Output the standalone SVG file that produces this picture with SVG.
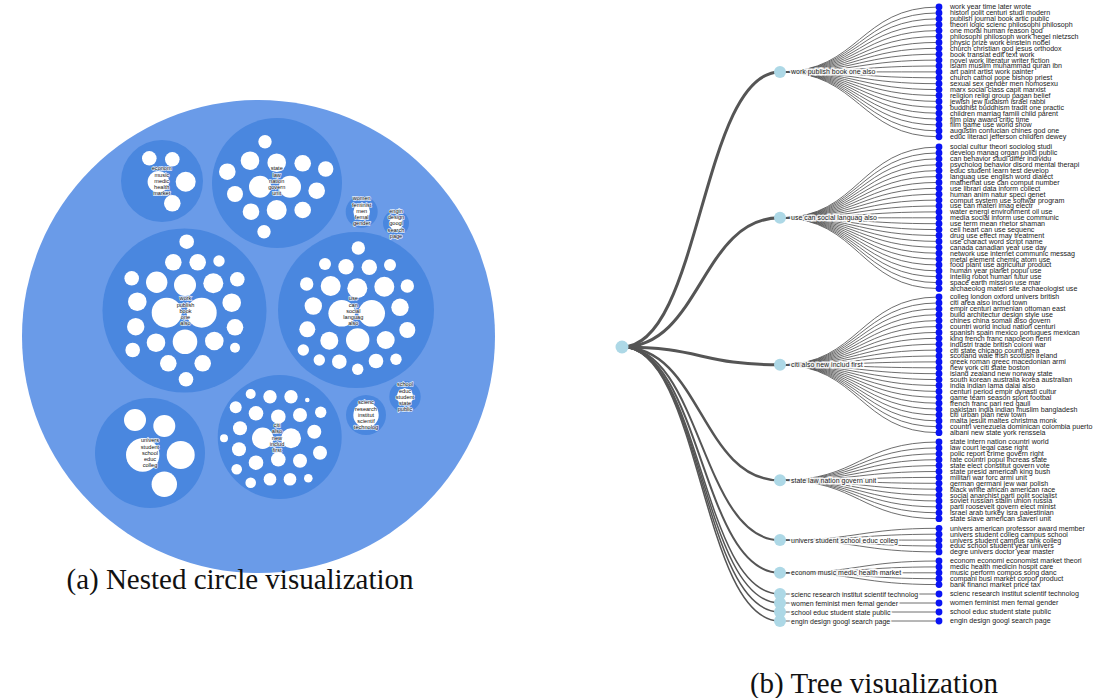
<svg xmlns="http://www.w3.org/2000/svg" width="1094" height="698" viewBox="0 0 1094 698">
<style>
.ll{fill:none;stroke:#555;stroke-width:1;stroke-opacity:.85}
.rl{fill:none;stroke:#555}
.lv{fill:#0a14f5}
.md{fill:#add8e6}
.tl{font-family:"Liberation Sans",Arial,sans-serif;font-size:7.1px;fill:#1a1a1a}
.ml{font-family:"Liberation Sans",Arial,sans-serif;font-size:7px;fill:#1a1a1a;stroke:#fff;stroke-width:3;stroke-opacity:.9;paint-order:stroke}
.outer{fill:#6a9be8}
.grp{fill:#4a87df}
.w{fill:#fff}
.cl{font-family:"Liberation Sans",Arial,sans-serif;font-size:5.6px;fill:#111;text-anchor:middle;stroke:#fff;stroke-width:1.3;stroke-opacity:.85;paint-order:stroke}
.cap{font-family:"Liberation Serif","Times New Roman",serif;font-size:29px;fill:#111;text-anchor:middle}
</style>

<!-- ========== (a) nested circles ========== -->
<g id="pack">
<circle id="pack-root" class="outer" cx="258.5" cy="336.5" r="236.5"/>

<g id="c-econom">
<circle class="grp" cx="162" cy="181" r="41"/>
<circle class="w" cx="149.3" cy="158.3" r="7.3"/><circle class="w" cx="172.3" cy="159.3" r="7.3"/><circle class="w" cx="185.7" cy="181.7" r="10"/><circle class="w" cx="172.3" cy="203.3" r="8.3"/><circle class="w" cx="158.3" cy="181.7" r="10.7"/>
<text class="cl"><tspan x="161.7" y="170.3">econom</tspan><tspan x="161.7" y="176.6">music</tspan><tspan x="161.7" y="182.8">medic</tspan><tspan x="161.7" y="189.1">health</tspan><tspan x="161.7" y="195.3">market</tspan></text>
</g>

<g id="c-state">
<circle class="grp" cx="277" cy="183" r="65"/>
<circle class="w" cx="265" cy="141.7" r="6.7"/><circle class="w" cx="250" cy="160.7" r="9.3"/><circle class="w" cx="276.7" cy="162.7" r="9.3"/><circle class="w" cx="302.7" cy="163.3" r="8.3"/><circle class="w" cx="325.7" cy="169" r="7.7"/><circle class="w" cx="227.3" cy="171.7" r="8.3"/><circle class="w" cx="260" cy="186.7" r="11"/><circle class="w" cx="290" cy="186.7" r="11"/><circle class="w" cx="316.7" cy="190.7" r="8.3"/><circle class="w" cx="235" cy="194" r="8"/><circle class="w" cx="251" cy="211.7" r="8.3"/><circle class="w" cx="276.7" cy="210" r="10"/><circle class="w" cx="302.7" cy="210" r="8.3"/><circle class="w" cx="264" cy="231.7" r="6.7"/>
<text class="cl"><tspan x="276.7" y="170.3">state</tspan><tspan x="276.7" y="176.6">law</tspan><tspan x="276.7" y="182.8">nation</tspan><tspan x="276.7" y="189.1">govern</tspan><tspan x="276.7" y="195.3">unit</tspan></text>
</g>

<g id="c-women">
<circle class="grp" cx="361.7" cy="211.7" r="16"/>
<circle class="w" cx="361.7" cy="211.7" r="8.3"/>
<text class="cl"><tspan x="361.7" y="200.3">women</tspan><tspan x="361.7" y="206.6">feminist</tspan><tspan x="361.7" y="212.8">men</tspan><tspan x="361.7" y="219.1">femal</tspan><tspan x="361.7" y="225.3">gender</tspan></text>
</g>

<g id="c-engin">
<circle class="grp" cx="396" cy="223.3" r="13"/>
<circle class="w" cx="396" cy="223.3" r="6.7"/>
<text class="cl"><tspan x="396" y="212.8">engin</tspan><tspan x="396" y="219.1">design</tspan><tspan x="396" y="225.3">googl</tspan><tspan x="396" y="231.6">search</tspan><tspan x="396" y="237.8">page</tspan></text>
</g>

<g id="c-work">
<circle class="grp" cx="184.5" cy="310.5" r="82"/>
<circle class="w" cx="186.7" cy="241.7" r="7.3"/><circle class="w" cx="173.3" cy="262.3" r="8.3"/><circle class="w" cx="197.7" cy="262.3" r="8.3"/><circle class="w" cx="219" cy="261" r="5.7"/><circle class="w" cx="131.7" cy="278.3" r="7.3"/><circle class="w" cx="156.7" cy="282.3" r="10.7"/><circle class="w" cx="185" cy="285" r="11"/><circle class="w" cx="213.3" cy="283.3" r="10"/><circle class="w" cx="237.3" cy="279.3" r="7.3"/><circle class="w" cx="137.3" cy="301.7" r="9.3"/><circle class="w" cx="231.7" cy="302.7" r="9.3"/><circle class="w" cx="166.7" cy="312.7" r="15"/><circle class="w" cx="201.7" cy="312.7" r="15"/><circle class="w" cx="135.7" cy="326.7" r="8.7"/><circle class="w" cx="235" cy="327.3" r="8.3"/><circle class="w" cx="156" cy="342.7" r="9.3"/><circle class="w" cx="185" cy="341.7" r="12.3"/><circle class="w" cx="214.3" cy="341" r="9.3"/><circle class="w" cx="132.7" cy="350" r="7.3"/><circle class="w" cx="235" cy="347.7" r="5"/><circle class="w" cx="168.3" cy="363.3" r="8.3"/><circle class="w" cx="202.7" cy="363.3" r="8.3"/><circle class="w" cx="186" cy="379.3" r="7.3"/>
<text class="cl"><tspan x="185.5" y="300.3">work</tspan><tspan x="185.5" y="306.6">publish</tspan><tspan x="185.5" y="312.8">book</tspan><tspan x="185.5" y="319.1">one</tspan><tspan x="185.5" y="325.3">also</tspan></text>
</g>

<g id="c-use">
<circle class="grp" cx="356" cy="310" r="78"/>
<circle class="w" cx="358.3" cy="248" r="6.7"/><circle class="w" cx="325" cy="264" r="6"/><circle class="w" cx="346" cy="266.7" r="7.7"/><circle class="w" cx="369.3" cy="267.3" r="7.7"/><circle class="w" cx="390" cy="265" r="6"/><circle class="w" cx="306.7" cy="284" r="6.7"/><circle class="w" cx="330.7" cy="286" r="10"/><circle class="w" cx="357.3" cy="288.3" r="10"/><circle class="w" cx="384.3" cy="286.7" r="10"/><circle class="w" cx="407.3" cy="286" r="6.7"/><circle class="w" cx="313.3" cy="306" r="8.7"/><circle class="w" cx="341.7" cy="313.3" r="13.3"/><circle class="w" cx="371.7" cy="313.3" r="13.3"/><circle class="w" cx="400" cy="307.3" r="8.7"/><circle class="w" cx="307.3" cy="329.3" r="8"/><circle class="w" cx="407.3" cy="330" r="8"/><circle class="w" cx="329.3" cy="340.7" r="9"/><circle class="w" cx="357.7" cy="340" r="11.7"/><circle class="w" cx="385.7" cy="340" r="9"/><circle class="w" cx="303.3" cy="350" r="5.7"/><circle class="w" cx="319.3" cy="360" r="5.7"/><circle class="w" cx="339.3" cy="361.7" r="7.3"/><circle class="w" cx="376" cy="361" r="7.3"/><circle class="w" cx="396" cy="359.3" r="5.7"/><circle class="w" cx="357.7" cy="369.3" r="5.7"/>
<text class="cl"><tspan x="353.3" y="300.3">use</tspan><tspan x="353.3" y="306.6">can</tspan><tspan x="353.3" y="312.8">social</tspan><tspan x="353.3" y="319.1">languag</tspan><tspan x="353.3" y="325.3">also</tspan></text>
</g>

<g id="c-univers">
<circle class="grp" cx="150" cy="453" r="55"/>
<circle class="w" cx="135" cy="420" r="11"/><circle class="w" cx="164.3" cy="426" r="11"/><circle class="w" cx="142.7" cy="455" r="16.7"/><circle class="w" cx="180.7" cy="455" r="14"/><circle class="w" cx="164.3" cy="484.3" r="12.7"/>
<text class="cl"><tspan x="150" y="442.3">univers</tspan><tspan x="150" y="448.5">student</tspan><tspan x="150" y="454.8">school</tspan><tspan x="150" y="461">educ</tspan><tspan x="150" y="467.3">colleg</tspan></text>
</g>

<g id="c-citi">
<circle class="grp" cx="279.7" cy="437" r="62"/>
<circle class="w" cx="250.7" cy="394" r="5"/><circle class="w" cx="270" cy="396.7" r="6.7"/><circle class="w" cx="291" cy="396.7" r="6.7"/><circle class="w" cx="307.3" cy="400" r="2.3"/><circle class="w" cx="235.7" cy="407.3" r="6"/><circle class="w" cx="256" cy="413.3" r="7.3"/><circle class="w" cx="278.3" cy="416.7" r="7.3"/><circle class="w" cx="300" cy="415" r="7"/><circle class="w" cx="320.7" cy="412.3" r="5.7"/><circle class="w" cx="240" cy="428.3" r="7"/><circle class="w" cx="314.3" cy="431.7" r="7"/><circle class="w" cx="224" cy="438.3" r="4"/><circle class="w" cx="262.7" cy="438.3" r="10.7"/><circle class="w" cx="291" cy="438.3" r="10"/><circle class="w" cx="239" cy="449.3" r="7"/><circle class="w" cx="320" cy="452.7" r="7"/><circle class="w" cx="278.3" cy="459.3" r="7.3"/><circle class="w" cx="256" cy="462.7" r="7.3"/><circle class="w" cx="300" cy="460.7" r="7"/><circle class="w" cx="236.7" cy="469.3" r="5.3"/><circle class="w" cx="250.7" cy="482.7" r="5.3"/><circle class="w" cx="270" cy="479.3" r="6.3"/><circle class="w" cx="290" cy="479.3" r="6.3"/><circle class="w" cx="308.3" cy="478.3" r="4.3"/>
<text class="cl"><tspan x="277" y="427">citi</tspan><tspan x="277" y="433.3">also</tspan><tspan x="277" y="439.5">new</tspan><tspan x="277" y="445.8">includ</tspan><tspan x="277" y="452">first</tspan></text>
</g>

<g id="c-scienc">
<circle class="grp" cx="366" cy="415" r="20"/>
<circle class="w" cx="366" cy="415" r="12.7"/>
<text class="cl"><tspan x="366" y="404.3">scienc</tspan><tspan x="366" y="410.6">research</tspan><tspan x="366" y="416.8">institut</tspan><tspan x="366" y="423.1">scientif</tspan><tspan x="366" y="429.3">technolog</tspan></text>
</g>

<g id="c-school">
<circle class="grp" cx="405" cy="396.7" r="15.7"/>
<circle class="w" cx="405" cy="396.7" r="8.3"/>
<text class="cl"><tspan x="405" y="386.3">school</tspan><tspan x="405" y="392.6">educ</tspan><tspan x="405" y="398.8">student</tspan><tspan x="405" y="405.1">state</tspan><tspan x="405" y="411.3">public</tspan></text>
</g>
</g>

<text id="cap-a" class="cap" x="240" y="589">(a) Nested circle visualization</text>

<!-- ========== (b) tree ========== -->
<g id="connectors">
<path class="rl" stroke-width="3" d="M622,347C701,347 701,71.9 780,71.9"/>
<path class="rl" stroke-width="3" d="M622,347C701,347 701,217.8 780,217.8"/>
<path class="rl" stroke-width="3" d="M622,347C701,347 701,364.85 780,364.85"/>
<path class="rl" stroke-width="2.5" d="M622,347C701,347 701,480.35 780,480.35"/>
<path class="rl" stroke-width="2" d="M622,347C701,347 701,540.1 780,540.1"/>
<path class="rl" stroke-width="2" d="M622,347C701,347 701,572.8 780,572.8"/>
<path class="rl" stroke-width="1.5" d="M622,347C701,347 701,594 780,594"/>
<path class="rl" stroke-width="1.5" d="M622,347C701,347 701,603 780,603"/>
<path class="rl" stroke-width="1.5" d="M622,347C701,347 701,612 780,612"/>
<path class="rl" stroke-width="1.5" d="M622,347C701,347 701,621 780,621"/>

<path class="ll" d="M780,71.9C859.5,71.9 859.5,7 939,7"/>
<path class="ll" d="M780,71.9C859.5,71.9 859.5,12.9 939,12.9"/>
<path class="ll" d="M780,71.9C859.5,71.9 859.5,18.8 939,18.8"/>
<path class="ll" d="M780,71.9C859.5,71.9 859.5,24.7 939,24.7"/>
<path class="ll" d="M780,71.9C859.5,71.9 859.5,30.6 939,30.6"/>
<path class="ll" d="M780,71.9C859.5,71.9 859.5,36.5 939,36.5"/>
<path class="ll" d="M780,71.9C859.5,71.9 859.5,42.4 939,42.4"/>
<path class="ll" d="M780,71.9C859.5,71.9 859.5,48.3 939,48.3"/>
<path class="ll" d="M780,71.9C859.5,71.9 859.5,54.2 939,54.2"/>
<path class="ll" d="M780,71.9C859.5,71.9 859.5,60.1 939,60.1"/>
<path class="ll" d="M780,71.9C859.5,71.9 859.5,66 939,66"/>
<path class="ll" d="M780,71.9C859.5,71.9 859.5,71.9 939,71.9"/>
<path class="ll" d="M780,71.9C859.5,71.9 859.5,77.8 939,77.8"/>
<path class="ll" d="M780,71.9C859.5,71.9 859.5,83.7 939,83.7"/>
<path class="ll" d="M780,71.9C859.5,71.9 859.5,89.6 939,89.6"/>
<path class="ll" d="M780,71.9C859.5,71.9 859.5,95.5 939,95.5"/>
<path class="ll" d="M780,71.9C859.5,71.9 859.5,101.4 939,101.4"/>
<path class="ll" d="M780,71.9C859.5,71.9 859.5,107.3 939,107.3"/>
<path class="ll" d="M780,71.9C859.5,71.9 859.5,113.2 939,113.2"/>
<path class="ll" d="M780,71.9C859.5,71.9 859.5,119.1 939,119.1"/>
<path class="ll" d="M780,71.9C859.5,71.9 859.5,125 939,125"/>
<path class="ll" d="M780,71.9C859.5,71.9 859.5,130.9 939,130.9"/>
<path class="ll" d="M780,71.9C859.5,71.9 859.5,136.8 939,136.8"/>

<path class="ll" d="M780,217.8C859.5,217.8 859.5,147 939,147"/>
<path class="ll" d="M780,217.8C859.5,217.8 859.5,152.9 939,152.9"/>
<path class="ll" d="M780,217.8C859.5,217.8 859.5,158.8 939,158.8"/>
<path class="ll" d="M780,217.8C859.5,217.8 859.5,164.7 939,164.7"/>
<path class="ll" d="M780,217.8C859.5,217.8 859.5,170.6 939,170.6"/>
<path class="ll" d="M780,217.8C859.5,217.8 859.5,176.5 939,176.5"/>
<path class="ll" d="M780,217.8C859.5,217.8 859.5,182.4 939,182.4"/>
<path class="ll" d="M780,217.8C859.5,217.8 859.5,188.3 939,188.3"/>
<path class="ll" d="M780,217.8C859.5,217.8 859.5,194.2 939,194.2"/>
<path class="ll" d="M780,217.8C859.5,217.8 859.5,200.1 939,200.1"/>
<path class="ll" d="M780,217.8C859.5,217.8 859.5,206 939,206"/>
<path class="ll" d="M780,217.8C859.5,217.8 859.5,211.9 939,211.9"/>
<path class="ll" d="M780,217.8C859.5,217.8 859.5,217.8 939,217.8"/>
<path class="ll" d="M780,217.8C859.5,217.8 859.5,223.7 939,223.7"/>
<path class="ll" d="M780,217.8C859.5,217.8 859.5,229.6 939,229.6"/>
<path class="ll" d="M780,217.8C859.5,217.8 859.5,235.5 939,235.5"/>
<path class="ll" d="M780,217.8C859.5,217.8 859.5,241.4 939,241.4"/>
<path class="ll" d="M780,217.8C859.5,217.8 859.5,247.3 939,247.3"/>
<path class="ll" d="M780,217.8C859.5,217.8 859.5,253.2 939,253.2"/>
<path class="ll" d="M780,217.8C859.5,217.8 859.5,259.1 939,259.1"/>
<path class="ll" d="M780,217.8C859.5,217.8 859.5,265 939,265"/>
<path class="ll" d="M780,217.8C859.5,217.8 859.5,270.9 939,270.9"/>
<path class="ll" d="M780,217.8C859.5,217.8 859.5,276.8 939,276.8"/>
<path class="ll" d="M780,217.8C859.5,217.8 859.5,282.7 939,282.7"/>
<path class="ll" d="M780,217.8C859.5,217.8 859.5,288.6 939,288.6"/>

<path class="ll" d="M780,364.85C859.5,364.85 859.5,297 939,297"/>
<path class="ll" d="M780,364.85C859.5,364.85 859.5,302.9 939,302.9"/>
<path class="ll" d="M780,364.85C859.5,364.85 859.5,308.8 939,308.8"/>
<path class="ll" d="M780,364.85C859.5,364.85 859.5,314.7 939,314.7"/>
<path class="ll" d="M780,364.85C859.5,364.85 859.5,320.6 939,320.6"/>
<path class="ll" d="M780,364.85C859.5,364.85 859.5,326.5 939,326.5"/>
<path class="ll" d="M780,364.85C859.5,364.85 859.5,332.4 939,332.4"/>
<path class="ll" d="M780,364.85C859.5,364.85 859.5,338.3 939,338.3"/>
<path class="ll" d="M780,364.85C859.5,364.85 859.5,344.2 939,344.2"/>
<path class="ll" d="M780,364.85C859.5,364.85 859.5,350.1 939,350.1"/>
<path class="ll" d="M780,364.85C859.5,364.85 859.5,356 939,356"/>
<path class="ll" d="M780,364.85C859.5,364.85 859.5,361.9 939,361.9"/>
<path class="ll" d="M780,364.85C859.5,364.85 859.5,367.8 939,367.8"/>
<path class="ll" d="M780,364.85C859.5,364.85 859.5,373.7 939,373.7"/>
<path class="ll" d="M780,364.85C859.5,364.85 859.5,379.6 939,379.6"/>
<path class="ll" d="M780,364.85C859.5,364.85 859.5,385.5 939,385.5"/>
<path class="ll" d="M780,364.85C859.5,364.85 859.5,391.4 939,391.4"/>
<path class="ll" d="M780,364.85C859.5,364.85 859.5,397.3 939,397.3"/>
<path class="ll" d="M780,364.85C859.5,364.85 859.5,403.2 939,403.2"/>
<path class="ll" d="M780,364.85C859.5,364.85 859.5,409.1 939,409.1"/>
<path class="ll" d="M780,364.85C859.5,364.85 859.5,415 939,415"/>
<path class="ll" d="M780,364.85C859.5,364.85 859.5,420.9 939,420.9"/>
<path class="ll" d="M780,364.85C859.5,364.85 859.5,426.8 939,426.8"/>
<path class="ll" d="M780,364.85C859.5,364.85 859.5,432.7 939,432.7"/>

<path class="ll" d="M780,480.35C859.5,480.35 859.5,442 939,442"/>
<path class="ll" d="M780,480.35C859.5,480.35 859.5,447.9 939,447.9"/>
<path class="ll" d="M780,480.35C859.5,480.35 859.5,453.8 939,453.8"/>
<path class="ll" d="M780,480.35C859.5,480.35 859.5,459.7 939,459.7"/>
<path class="ll" d="M780,480.35C859.5,480.35 859.5,465.6 939,465.6"/>
<path class="ll" d="M780,480.35C859.5,480.35 859.5,471.5 939,471.5"/>
<path class="ll" d="M780,480.35C859.5,480.35 859.5,477.4 939,477.4"/>
<path class="ll" d="M780,480.35C859.5,480.35 859.5,483.3 939,483.3"/>
<path class="ll" d="M780,480.35C859.5,480.35 859.5,489.2 939,489.2"/>
<path class="ll" d="M780,480.35C859.5,480.35 859.5,495.1 939,495.1"/>
<path class="ll" d="M780,480.35C859.5,480.35 859.5,501 939,501"/>
<path class="ll" d="M780,480.35C859.5,480.35 859.5,506.9 939,506.9"/>
<path class="ll" d="M780,480.35C859.5,480.35 859.5,512.8 939,512.8"/>
<path class="ll" d="M780,480.35C859.5,480.35 859.5,518.7 939,518.7"/>

<path class="ll" d="M780,540.1C859.5,540.1 859.5,528.3 939,528.3"/>
<path class="ll" d="M780,540.1C859.5,540.1 859.5,534.2 939,534.2"/>
<path class="ll" d="M780,540.1C859.5,540.1 859.5,540.1 939,540.1"/>
<path class="ll" d="M780,540.1C859.5,540.1 859.5,546 939,546"/>
<path class="ll" d="M780,540.1C859.5,540.1 859.5,551.9 939,551.9"/>

<path class="ll" d="M780,572.8C859.5,572.8 859.5,561 939,561"/>
<path class="ll" d="M780,572.8C859.5,572.8 859.5,566.9 939,566.9"/>
<path class="ll" d="M780,572.8C859.5,572.8 859.5,572.8 939,572.8"/>
<path class="ll" d="M780,572.8C859.5,572.8 859.5,578.7 939,578.7"/>
<path class="ll" d="M780,572.8C859.5,572.8 859.5,584.6 939,584.6"/>

<path class="ll" d="M780,594H939"/>
<path class="ll" d="M780,603H939"/>
<path class="ll" d="M780,612H939"/>
<path class="ll" d="M780,621H939"/>
</g>

<g id="root"><circle class="md" cx="622" cy="347" r="6.5"/></g>

<g id="m1"><circle class="md" cx="780" cy="71.9" r="6"/><text class="ml" x="791" y="74.4">work publish book one also</text></g>
<g id="m2"><circle class="md" cx="780" cy="217.8" r="6"/><text class="ml" x="791" y="220.3">use can social languag also</text></g>
<g id="m3"><circle class="md" cx="780" cy="364.85" r="6"/><text class="ml" x="791" y="367.3">citi also new includ first</text></g>
<g id="m4"><circle class="md" cx="780" cy="480.35" r="6"/><text class="ml" x="791" y="482.8">state law nation govern unit</text></g>
<g id="m5"><circle class="md" cx="780" cy="540.1" r="6"/><text class="ml" x="791" y="542.6">univers student school educ colleg</text></g>
<g id="m6"><circle class="md" cx="780" cy="572.8" r="6"/><text class="ml" x="791" y="575.3">econom music medic health market</text></g>
<g id="m7"><circle class="md" cx="780" cy="594" r="6"/><text class="ml" x="791" y="596.5">scienc research institut scientif technolog</text></g>
<g id="m8"><circle class="md" cx="780" cy="603" r="6"/><text class="ml" x="791" y="605.5">women feminist men femal gender</text></g>
<g id="m9"><circle class="md" cx="780" cy="612" r="6"/><text class="ml" x="791" y="614.5">school educ student state public</text></g>
<g id="m10"><circle class="md" cx="780" cy="621" r="6"/><text class="ml" x="791" y="623.5">engin design googl search page</text></g>

<g id="leaves">
<g id="l1-1"><circle class="lv" cx="939" cy="7" r="3.4"/><text class="tl" x="950" y="9.4">work year time later wrote</text></g>
<g id="l1-2"><circle class="lv" cx="939" cy="12.9" r="3.4"/><text class="tl" x="950" y="15.3">histori polit centuri studi modern</text></g>
<g id="l1-3"><circle class="lv" cx="939" cy="18.8" r="3.4"/><text class="tl" x="950" y="21.2">publish journal book artic public</text></g>
<g id="l1-4"><circle class="lv" cx="939" cy="24.7" r="3.4"/><text class="tl" x="950" y="27.1">theori logic scienc philosophi philosoph</text></g>
<g id="l1-5"><circle class="lv" cx="939" cy="30.6" r="3.4"/><text class="tl" x="950" y="33">one moral human reason god</text></g>
<g id="l1-6"><circle class="lv" cx="939" cy="36.5" r="3.4"/><text class="tl" x="950" y="38.9">philosophi philosoph work hegel nietzsch</text></g>
<g id="l1-7"><circle class="lv" cx="939" cy="42.4" r="3.4"/><text class="tl" x="950" y="44.8">physic prize work einstein nobel</text></g>
<g id="l1-8"><circle class="lv" cx="939" cy="48.3" r="3.4"/><text class="tl" x="950" y="50.7">church christian god jesus orthodox</text></g>
<g id="l1-9"><circle class="lv" cx="939" cy="54.2" r="3.4"/><text class="tl" x="950" y="56.6">book translat edit text work</text></g>
<g id="l1-10"><circle class="lv" cx="939" cy="60.1" r="3.4"/><text class="tl" x="950" y="62.5">novel work literatur writer fiction</text></g>
<g id="l1-11"><circle class="lv" cx="939" cy="66" r="3.4"/><text class="tl" x="950" y="68.4">islam muslim muhammad quran ibn</text></g>
<g id="l1-12"><circle class="lv" cx="939" cy="71.9" r="3.4"/><text class="tl" x="950" y="74.3">art paint artist work painter</text></g>
<g id="l1-13"><circle class="lv" cx="939" cy="77.8" r="3.4"/><text class="tl" x="950" y="80.2">church cathol pope bishop priest</text></g>
<g id="l1-14"><circle class="lv" cx="939" cy="83.7" r="3.4"/><text class="tl" x="950" y="86.1">sexual sex gender men homosexu</text></g>
<g id="l1-15"><circle class="lv" cx="939" cy="89.6" r="3.4"/><text class="tl" x="950" y="92">marx social class capit marxist</text></g>
<g id="l1-16"><circle class="lv" cx="939" cy="95.5" r="3.4"/><text class="tl" x="950" y="97.9">religion religi group pagan belief</text></g>
<g id="l1-17"><circle class="lv" cx="939" cy="101.4" r="3.4"/><text class="tl" x="950" y="103.8">jewish jew judaism israel rabbi</text></g>
<g id="l1-18"><circle class="lv" cx="939" cy="107.3" r="3.4"/><text class="tl" x="950" y="109.7">buddhist buddhism tradit one practic</text></g>
<g id="l1-19"><circle class="lv" cx="939" cy="113.2" r="3.4"/><text class="tl" x="950" y="115.6">children marriag famili child parent</text></g>
<g id="l1-20"><circle class="lv" cx="939" cy="119.1" r="3.4"/><text class="tl" x="950" y="121.5">film play award critic time</text></g>
<g id="l1-21"><circle class="lv" cx="939" cy="125" r="3.4"/><text class="tl" x="950" y="127.4">film game use world show</text></g>
<g id="l1-22"><circle class="lv" cx="939" cy="130.9" r="3.4"/><text class="tl" x="950" y="133.3">augustin confucian chines god one</text></g>
<g id="l1-23"><circle class="lv" cx="939" cy="136.8" r="3.4"/><text class="tl" x="950" y="139.2">educ literaci jefferson children dewey</text></g>

<g id="l2-1"><circle class="lv" cx="939" cy="147" r="3.4"/><text class="tl" x="950" y="149.4">social cultur theori sociolog studi</text></g>
<g id="l2-2"><circle class="lv" cx="939" cy="152.9" r="3.4"/><text class="tl" x="950" y="155.3">develop manag organ polici public</text></g>
<g id="l2-3"><circle class="lv" cx="939" cy="158.8" r="3.4"/><text class="tl" x="950" y="161.2">can behavior studi differ individu</text></g>
<g id="l2-4"><circle class="lv" cx="939" cy="164.7" r="3.4"/><text class="tl" x="950" y="167.1">psycholog behavior disord mental therapi</text></g>
<g id="l2-5"><circle class="lv" cx="939" cy="170.6" r="3.4"/><text class="tl" x="950" y="173">educ student learn test develop</text></g>
<g id="l2-6"><circle class="lv" cx="939" cy="176.5" r="3.4"/><text class="tl" x="950" y="178.9">languag use english word dialect</text></g>
<g id="l2-7"><circle class="lv" cx="939" cy="182.4" r="3.4"/><text class="tl" x="950" y="184.8">mathemat use can comput number</text></g>
<g id="l2-8"><circle class="lv" cx="939" cy="188.3" r="3.4"/><text class="tl" x="950" y="190.7">use librari data inform collect</text></g>
<g id="l2-9"><circle class="lv" cx="939" cy="194.2" r="3.4"/><text class="tl" x="950" y="196.6">human anim natur speci genet</text></g>
<g id="l2-10"><circle class="lv" cx="939" cy="200.1" r="3.4"/><text class="tl" x="950" y="202.5">comput system use softwar program</text></g>
<g id="l2-11"><circle class="lv" cx="939" cy="206" r="3.4"/><text class="tl" x="950" y="208.4">use can materi imag electr</text></g>
<g id="l2-12"><circle class="lv" cx="939" cy="211.9" r="3.4"/><text class="tl" x="950" y="214.3">water energi environment oil use</text></g>
<g id="l2-13"><circle class="lv" cx="939" cy="217.8" r="3.4"/><text class="tl" x="950" y="220.2">media social inform use communic</text></g>
<g id="l2-14"><circle class="lv" cx="939" cy="223.7" r="3.4"/><text class="tl" x="950" y="226.1">use term mean rhetor shaman</text></g>
<g id="l2-15"><circle class="lv" cx="939" cy="229.6" r="3.4"/><text class="tl" x="950" y="232">cell heart can use sequenc</text></g>
<g id="l2-16"><circle class="lv" cx="939" cy="235.5" r="3.4"/><text class="tl" x="950" y="237.9">drug use effect may treatment</text></g>
<g id="l2-17"><circle class="lv" cx="939" cy="241.4" r="3.4"/><text class="tl" x="950" y="243.8">use charact word script name</text></g>
<g id="l2-18"><circle class="lv" cx="939" cy="247.3" r="3.4"/><text class="tl" x="950" y="249.7">canada canadian year use day</text></g>
<g id="l2-19"><circle class="lv" cx="939" cy="253.2" r="3.4"/><text class="tl" x="950" y="255.6">network use internet communic messag</text></g>
<g id="l2-20"><circle class="lv" cx="939" cy="259.1" r="3.4"/><text class="tl" x="950" y="261.5">metal element chemic atom use</text></g>
<g id="l2-21"><circle class="lv" cx="939" cy="265" r="3.4"/><text class="tl" x="950" y="267.4">food plant use agricultur product</text></g>
<g id="l2-22"><circle class="lv" cx="939" cy="270.9" r="3.4"/><text class="tl" x="950" y="273.3">human year planet popul use</text></g>
<g id="l2-23"><circle class="lv" cx="939" cy="276.8" r="3.4"/><text class="tl" x="950" y="279.2">intellig robot human futur use</text></g>
<g id="l2-24"><circle class="lv" cx="939" cy="282.7" r="3.4"/><text class="tl" x="950" y="285.1">space earth mission use mar</text></g>
<g id="l2-25"><circle class="lv" cx="939" cy="288.6" r="3.4"/><text class="tl" x="950" y="291">archaeolog materi site archaeologist use</text></g>

<g id="l3-1"><circle class="lv" cx="939" cy="297" r="3.4"/><text class="tl" x="950" y="299.4">colleg london oxford univers british</text></g>
<g id="l3-2"><circle class="lv" cx="939" cy="302.9" r="3.4"/><text class="tl" x="950" y="305.3">citi area also includ town</text></g>
<g id="l3-3"><circle class="lv" cx="939" cy="308.8" r="3.4"/><text class="tl" x="950" y="311.2">empir centuri armenian ottoman east</text></g>
<g id="l3-4"><circle class="lv" cx="939" cy="314.7" r="3.4"/><text class="tl" x="950" y="317.1">build architectur design style use</text></g>
<g id="l3-5"><circle class="lv" cx="939" cy="320.6" r="3.4"/><text class="tl" x="950" y="323">chines china somali also govern</text></g>
<g id="l3-6"><circle class="lv" cx="939" cy="326.5" r="3.4"/><text class="tl" x="950" y="328.9">countri world includ nation centuri</text></g>
<g id="l3-7"><circle class="lv" cx="939" cy="332.4" r="3.4"/><text class="tl" x="950" y="334.8">spanish spain mexico portugues mexican</text></g>
<g id="l3-8"><circle class="lv" cx="939" cy="338.3" r="3.4"/><text class="tl" x="950" y="340.7">king french franc napoleon henri</text></g>
<g id="l3-9"><circle class="lv" cx="939" cy="344.2" r="3.4"/><text class="tl" x="950" y="346.6">industri trade british coloni war</text></g>
<g id="l3-10"><circle class="lv" cx="939" cy="350.1" r="3.4"/><text class="tl" x="950" y="352.5">citi state chicago counti area</text></g>
<g id="l3-11"><circle class="lv" cx="939" cy="356" r="3.4"/><text class="tl" x="950" y="358.4">scotland wale irish scottish ireland</text></g>
<g id="l3-12"><circle class="lv" cx="939" cy="361.9" r="3.4"/><text class="tl" x="950" y="364.3">greek roman greec macedonian armi</text></g>
<g id="l3-13"><circle class="lv" cx="939" cy="367.8" r="3.4"/><text class="tl" x="950" y="370.2">new york citi state boston</text></g>
<g id="l3-14"><circle class="lv" cx="939" cy="373.7" r="3.4"/><text class="tl" x="950" y="376.1">island zealand new norway state</text></g>
<g id="l3-15"><circle class="lv" cx="939" cy="379.6" r="3.4"/><text class="tl" x="950" y="382">south korean australia korea australian</text></g>
<g id="l3-16"><circle class="lv" cx="939" cy="385.5" r="3.4"/><text class="tl" x="950" y="387.9">india indian lama dalai also</text></g>
<g id="l3-17"><circle class="lv" cx="939" cy="391.4" r="3.4"/><text class="tl" x="950" y="393.8">centuri period empir dynasti cultur</text></g>
<g id="l3-18"><circle class="lv" cx="939" cy="397.3" r="3.4"/><text class="tl" x="950" y="399.7">game team season sport footbal</text></g>
<g id="l3-19"><circle class="lv" cx="939" cy="403.2" r="3.4"/><text class="tl" x="950" y="405.6">french franc pari red gaull</text></g>
<g id="l3-20"><circle class="lv" cx="939" cy="409.1" r="3.4"/><text class="tl" x="950" y="411.5">pakistan india indian muslim bangladesh</text></g>
<g id="l3-21"><circle class="lv" cx="939" cy="415" r="3.4"/><text class="tl" x="950" y="417.4">citi urban plan new town</text></g>
<g id="l3-22"><circle class="lv" cx="939" cy="420.9" r="3.4"/><text class="tl" x="950" y="423.3">malta jesuit maltes christma monk</text></g>
<g id="l3-23"><circle class="lv" cx="939" cy="426.8" r="3.4"/><text class="tl" x="950" y="429.2">countri venezuela dominican colombia puerto</text></g>
<g id="l3-24"><circle class="lv" cx="939" cy="432.7" r="3.4"/><text class="tl" x="950" y="435.1">albani new state york renssela</text></g>

<g id="l4-1"><circle class="lv" cx="939" cy="442" r="3.4"/><text class="tl" x="950" y="444.4">state intern nation countri world</text></g>
<g id="l4-2"><circle class="lv" cx="939" cy="447.9" r="3.4"/><text class="tl" x="950" y="450.3">law court legal case right</text></g>
<g id="l4-3"><circle class="lv" cx="939" cy="453.8" r="3.4"/><text class="tl" x="950" y="456.2">polic report crime govern right</text></g>
<g id="l4-4"><circle class="lv" cx="939" cy="459.7" r="3.4"/><text class="tl" x="950" y="462.1">rate countri popul increas state</text></g>
<g id="l4-5"><circle class="lv" cx="939" cy="465.6" r="3.4"/><text class="tl" x="950" y="468">state elect constitut govern vote</text></g>
<g id="l4-6"><circle class="lv" cx="939" cy="471.5" r="3.4"/><text class="tl" x="950" y="473.9">state presid american king bush</text></g>
<g id="l4-7"><circle class="lv" cx="939" cy="477.4" r="3.4"/><text class="tl" x="950" y="479.8">militari war forc armi unit</text></g>
<g id="l4-8"><circle class="lv" cx="939" cy="483.3" r="3.4"/><text class="tl" x="950" y="485.7">german germani jew war polish</text></g>
<g id="l4-9"><circle class="lv" cx="939" cy="489.2" r="3.4"/><text class="tl" x="950" y="491.6">black white african american race</text></g>
<g id="l4-10"><circle class="lv" cx="939" cy="495.1" r="3.4"/><text class="tl" x="950" y="497.5">social anarchist parti polit socialist</text></g>
<g id="l4-11"><circle class="lv" cx="939" cy="501" r="3.4"/><text class="tl" x="950" y="503.4">soviet russian stalin union russia</text></g>
<g id="l4-12"><circle class="lv" cx="939" cy="506.9" r="3.4"/><text class="tl" x="950" y="509.3">parti roosevelt govern elect minist</text></g>
<g id="l4-13"><circle class="lv" cx="939" cy="512.8" r="3.4"/><text class="tl" x="950" y="515.2">israel arab turkey isra palestinian</text></g>
<g id="l4-14"><circle class="lv" cx="939" cy="518.7" r="3.4"/><text class="tl" x="950" y="521.1">state slave american slaveri unit</text></g>

<g id="l5-1"><circle class="lv" cx="939" cy="528.3" r="3.4"/><text class="tl" x="950" y="530.7">univers american professor award member</text></g>
<g id="l5-2"><circle class="lv" cx="939" cy="534.2" r="3.4"/><text class="tl" x="950" y="536.6">univers student colleg campus school</text></g>
<g id="l5-3"><circle class="lv" cx="939" cy="540.1" r="3.4"/><text class="tl" x="950" y="542.5">univers student campus rank colleg</text></g>
<g id="l5-4"><circle class="lv" cx="939" cy="546" r="3.4"/><text class="tl" x="950" y="548.4">educ school student year univers</text></g>
<g id="l5-5"><circle class="lv" cx="939" cy="551.9" r="3.4"/><text class="tl" x="950" y="554.3">degre univers doctor year master</text></g>

<g id="l6-1"><circle class="lv" cx="939" cy="561" r="3.4"/><text class="tl" x="950" y="563.4">econom economi economist market theori</text></g>
<g id="l6-2"><circle class="lv" cx="939" cy="566.9" r="3.4"/><text class="tl" x="950" y="569.3">medic health medicin hospit care</text></g>
<g id="l6-3"><circle class="lv" cx="939" cy="572.8" r="3.4"/><text class="tl" x="950" y="575.2">music perform compos song danc</text></g>
<g id="l6-4"><circle class="lv" cx="939" cy="578.7" r="3.4"/><text class="tl" x="950" y="581.1">compani busi market corpor product</text></g>
<g id="l6-5"><circle class="lv" cx="939" cy="584.6" r="3.4"/><text class="tl" x="950" y="587">bank financi market price tax</text></g>

<g id="l7-1"><circle class="lv" cx="939" cy="594" r="3.4"/><text class="tl" x="950" y="596.4">scienc research institut scientif technolog</text></g>
<g id="l8-1"><circle class="lv" cx="939" cy="603" r="3.4"/><text class="tl" x="950" y="605.4">women feminist men femal gender</text></g>
<g id="l9-1"><circle class="lv" cx="939" cy="612" r="3.4"/><text class="tl" x="950" y="614.4">school educ student state public</text></g>
<g id="l10-1"><circle class="lv" cx="939" cy="621" r="3.4"/><text class="tl" x="950" y="623.4">engin design googl search page</text></g>
</g>

<text id="cap-b" class="cap" x="874" y="693">(b) Tree visualization</text>
</svg>
